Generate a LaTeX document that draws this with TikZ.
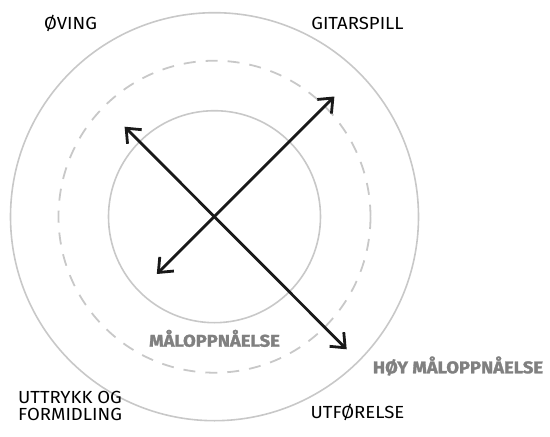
\documentclass[tikz,border=0pt]{standalone}
\usepackage{fontspec}
\setmainfont{Fira Sans}
\newfontfamily\labelfont[FakeStretch=1.06]{Fira Sans}
\newfontfamily\heavyfont[FakeStretch=1.08,FakeBold=1.6]{Fira Sans Bold}
\usetikzlibrary{arrows.meta}
\definecolor{ringgray}{RGB}{200,200,200}
\definecolor{labelgray}{RGB}{128,128,128}
\definecolor{arrowblack}{RGB}{25,25,25}
\tikzset{
  ring/.style={draw=ringgray, line width=1.6pt},
  dashring/.style={draw=ringgray, line width=1.8pt, dash pattern=on 12pt off 10pt},
  biarrow/.style={draw=arrowblack, line width=2.8pt,
     {Straight Barb[length=12pt,width=20pt,line width=2.8pt]}-{Straight Barb[length=12pt,width=20pt,line width=2.8pt]}},
  plain/.style={font=\labelfont\fontsize{17.5}{16.7}\selectfont, text=black, inner sep=0pt, anchor=base},
  boldlabel/.style={font=\heavyfont\fontsize{17}{17}\selectfont, text=labelgray, inner sep=0pt, anchor=base}
}
\begin{document}
\begin{tikzpicture}[x=1pt,y=-1pt]
\useasboundingbox (0,0) rectangle (550,437);
\coordinate (c) at (214.5,216.7);
\node[ring, circle, minimum size=408pt, inner sep=0pt] (outer) at (c) {};
\node[dashring, circle, minimum size=312pt, inner sep=0pt] (mid) at (c) {};
\node[ring, circle, minimum size=212pt, inner sep=0pt] (inner) at (c) {};
\coordinate (nw) at (124.6,126.7);
\coordinate (se) at (346.7,349.3);
\coordinate (ne) at (334.4,96.5);
\coordinate (sw) at (156.8,274);
\draw[biarrow] (nw) -- (se);
\draw[biarrow] (sw) -- (ne);
\node[plain] (oving) at (70.5,29.3) {ØVING};
\node[plain] (gitar) at (357.5,29.2) {GITARSPILL};
\node[plain] (utf) at (357.5,418) {UTFØRELSE};
\node[plain, anchor=base west, align=left] (uttr) at (18,420) {UTTRYKK OG\\FORMIDLING};
\node[boldlabel] (malo) at (214.5,346.7) {MÅLOPPNÅELSE};
\node[boldlabel] (hoy) at (458,373.3) {HØY MÅLOPPNÅELSE};
\end{tikzpicture}
\end{document}
